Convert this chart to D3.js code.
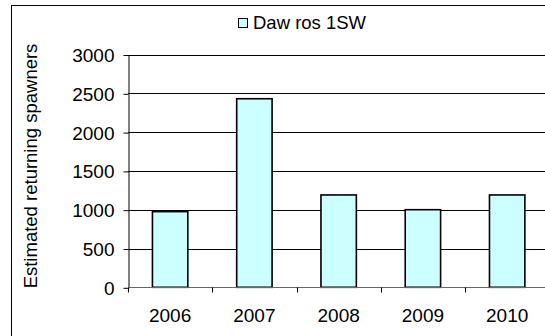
<!DOCTYPE html>
<html><head><meta charset="utf-8">
<script src="https://cdn.jsdelivr.net/npm/d3@7"></script>
<style>body{margin:0;background:#fff;}svg{display:block;font-family:"Liberation Sans",Arial,sans-serif;}</style>
</head><body>
<script>
const categories = ["2006","2007","2008","2009","2010"];
const values = [975, 2430, 1190, 1000, 1190];
const yTicks = [0,500,1000,1500,2000,2500,3000];
const seriesName = "Daw ros 1SW";

const W = 545, H = 336;
const FONT = "Liberation Sans, Arial, sans-serif";
const svg = d3.select("body").append("svg").attr("width", W).attr("height", H);
svg.append("rect").attr("x", 11.5).attr("y", 5.5).attr("width", W + 10).attr("height", H + 10)
  .attr("fill", "#fff").attr("stroke", "#000").attr("stroke-width", 1);

const x0 = 128, x1 = 549.3;
const x = d3.scaleBand().domain(categories).range([x0, x1]).paddingInner(0.58).paddingOuter(0.29);
const xb = d3.scaleBand().domain(categories).range([x0, x1]);
const y = d3.scaleLinear().domain([0, 3000]).range([287.3, 54.5]);

// gridlines
svg.append("g").selectAll("line").data(yTicks.filter(d => d > 0)).join("line")
  .attr("x1", x0).attr("x2", W + 5)
  .attr("y1", d => Math.round(y(d)) + 0.5).attr("y2", d => Math.round(y(d)) + 0.5)
  .attr("stroke", "#000").attr("stroke-width", 1);

// bars
svg.append("g").selectAll("rect").data(values).join("rect")
  .attr("x", (d, i) => x(categories[i]))
  .attr("y", d => y(d))
  .attr("width", x.bandwidth())
  .attr("height", d => y(0) - y(d))
  .attr("fill", "#ccffff").attr("stroke", "#000").attr("stroke-width", 1.6);

// y axis
const yAxis = d3.axisLeft(y).tickValues(yTicks).tickFormat(d3.format("d"))
  .tickSize(5).tickPadding(9).tickSizeOuter(0);
const gy = svg.append("g").attr("transform", "translate(128.5,0.5)").call(yAxis);
gy.attr("font-size", null).attr("font-family", null);
gy.selectAll("text").attr("font-size", 19).attr("fill", "#000").attr("font-family", FONT).attr("dy", "0.34em");
gy.selectAll("line,path").attr("stroke", "#000");

// x axis
const gx = svg.append("g").attr("transform", "translate(0," + (Math.round(y(0)) + 0.5) + ")");
gx.append("line").attr("x1", x0).attr("x2", W + 5).attr("stroke", "#666");
gx.selectAll("line.t").data(categories).join("line").attr("class", "t")
  .attr("x1", d => Math.round(xb(d)) + 0.5).attr("x2", d => Math.round(xb(d)) + 0.5)
  .attr("y1", 0).attr("y2", 5).attr("stroke", "#000");
gx.selectAll("text").data(categories).join("text")
  .attr("x", d => xb(d) + xb.bandwidth() / 2).attr("y", 34.5)
  .attr("text-anchor", "middle").attr("font-size", 19).attr("font-family", FONT).attr("fill", "#000")
  .text(d => d);

// y title
svg.append("text").attr("transform", "translate(37,166) rotate(-90)")
  .attr("text-anchor", "middle").attr("font-size", 18.5).attr("font-family", FONT).attr("fill", "#000")
  .text("Estimated returning spawners");

// legend
const lg = svg.append("g");
lg.append("rect").attr("x", 238.5).attr("y", 18.5).attr("width", 9).attr("height", 9)
  .attr("fill", "#ccffff").attr("stroke", "#000").attr("stroke-width", 1);
lg.append("text").attr("x", 253).attr("y", 29).attr("font-size", 18.5).attr("font-family", FONT).attr("fill", "#000").text(seriesName);
</script>
</body></html>
